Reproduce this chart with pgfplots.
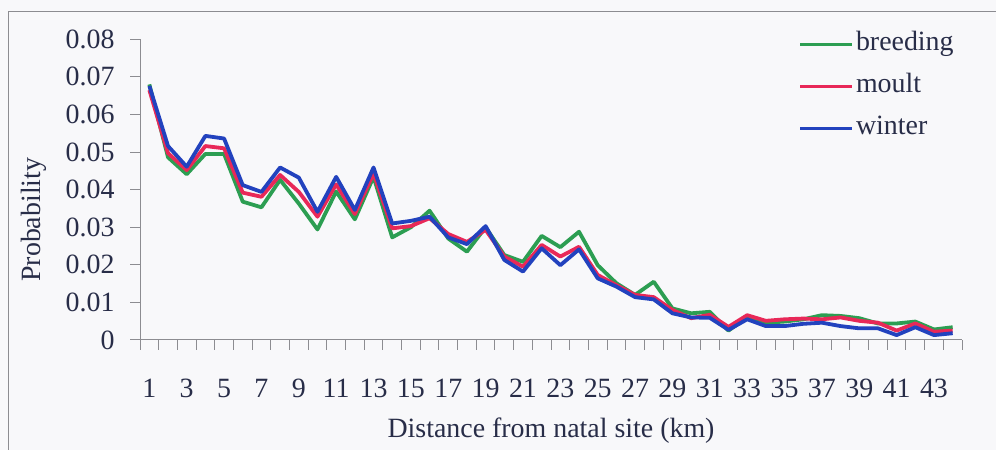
\documentclass[border=0pt]{standalone}
\usepackage{fontspec}
\setmainfont{Liberation Serif}
\usepackage{pgfplots}
\pgfplotsset{compat=1.18}
\usepackage{pgfplotstable}
\definecolor{bg}{RGB}{248,248,250}
\definecolor{frame}{RGB}{140,140,145}
\definecolor{textc}{RGB}{40,45,72}
\definecolor{cgreen}{RGB}{44,158,82}
\definecolor{cred}{RGB}{232,40,88}
\definecolor{cblue}{RGB}{34,66,190}
\newcommand{\myfont}{\fontsize{28}{33}\selectfont}
\pgfplotstableread{
k breeding moult winter
1 0.0680 0.0665 0.0676
2 0.0486 0.0497 0.0516
3 0.0441 0.0452 0.0461
4 0.0495 0.0516 0.0543
5 0.0495 0.0510 0.0536
6 0.0368 0.0392 0.0412
7 0.0353 0.0381 0.0394
8 0.0426 0.0439 0.0459
9 0.0363 0.0394 0.0432
10 0.0294 0.0328 0.0341
11 0.0395 0.0414 0.0434
12 0.0321 0.0335 0.0346
13 0.0434 0.0443 0.0459
14 0.0273 0.0297 0.0310
15 0.0300 0.0303 0.0317
16 0.0344 0.0324 0.0328
17 0.0270 0.0282 0.0273
18 0.0235 0.0261 0.0255
19 0.0300 0.0293 0.0303
20 0.0226 0.0222 0.0213
21 0.0208 0.0195 0.0182
22 0.0277 0.0253 0.0244
23 0.0247 0.0222 0.0199
24 0.0288 0.0248 0.0241
25 0.0199 0.0173 0.0164
26 0.0151 0.0146 0.0142
27 0.0120 0.0120 0.0114
28 0.0155 0.0114 0.0108
29 0.0084 0.0080 0.0071
30 0.0071 0.0058 0.0060
31 0.0075 0.0067 0.0059
32 0.0025 0.0035 0.0027
33 0.0060 0.0066 0.0055
34 0.0046 0.0051 0.0037
35 0.0049 0.0055 0.0037
36 0.0055 0.0057 0.0043
37 0.0066 0.0055 0.0046
38 0.0064 0.0060 0.0037
39 0.0058 0.0051 0.0031
40 0.0044 0.0046 0.0031
41 0.0044 0.0025 0.0013
42 0.0049 0.0044 0.0034
43 0.0028 0.0022 0.0013
44 0.0034 0.0025 0.0018
}\datatable
\begin{document}
\begin{tikzpicture}[x=1bp,y=1bp]
\useasboundingbox (0,0) rectangle (996,450);
\fill[bg] (0,0) rectangle (996,450);
\draw[frame,line width=1bp] (8,0) -- (8,438) -- (996,438);
\begin{axis}[
  at={(140bp,110bp)}, anchor=south west,
  scale only axis, width=822bp, height=300.7bp,
  xmin=0.5, xmax=44.5, ymin=0, ymax=0.08,
  axis lines*=left,
  axis line style={frame, line width=1bp},
  tick align=outside,
  xtick={1,3,...,43},
  minor xtick={0.5,1.5,...,44.5},
  major x tick style={draw=none},
  minor x tick style={frame, line width=1bp},
  minor tick length=10bp,
  major tick length=10bp,
  ytick={0,0.01,0.02,0.03,0.04,0.05,0.06,0.07,0.08},
  y tick style={frame, line width=1bp},
  scaled y ticks=false,
  yticklabel style={/pgf/number format/fixed, /pgf/number format/precision=2, xshift=-12bp},
  xticklabel style={yshift=-26bp},
  tick label style={font=\myfont, text=textc},
  /pgf/number format/assume math mode=true,
  xlabel={Distance from natal site (km)},
  ylabel={Probability},
  every axis x label/.style={at={(axis description cs:0.5,-0.30)}, anchor=center, font=\myfont, text=textc},
  every axis y label/.style={at={(axis description cs:-0.129,0.40)}, anchor=center, rotate=90, font=\myfont, text=textc},
  legend style={at={(axis description cs:0.8005,1.030)}, anchor=north west, draw=none, fill=none,
    font=\myfont, text=textc, inner sep=0pt, row sep=14bp,
    nodes={inner sep=2bp, text height=18bp, text depth=6bp}},
  legend cell align=left,
  legend image code/.code={\draw[#1] (0bp,0bp) -- (52bp,0bp);},
  every axis plot/.append style={line width=3.8bp, line join=round, mark=none},
]
\addplot[cgreen] table[x=k, y=breeding] {\datatable};
\addplot[cred] table[x=k, y=moult] {\datatable};
\addplot[cblue] table[x=k, y=winter] {\datatable};
\legend{breeding, moult, winter}
\end{axis}
\end{tikzpicture}
\end{document}
